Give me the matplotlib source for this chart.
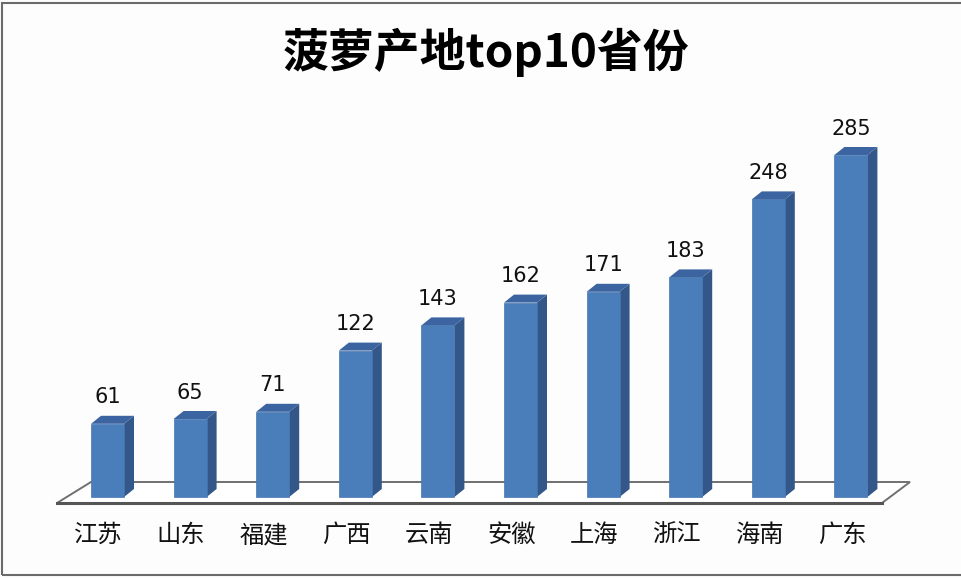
import numpy as np
import matplotlib
matplotlib.use('Agg')
import matplotlib.pyplot as plt
from matplotlib.patches import Polygon, Rectangle

plt.rcParams['font.family'] = ['Noto Sans CJK SC', 'DejaVu Sans']

provinces = ['江苏', '山东', '福建', '广西', '云南', '安徽', '上海', '浙江', '海南', '广东']
values = [61, 65, 71, 122, 143, 162, 171, 183, 248, 285]
title = '菠萝产地top10省份'

W, H = 962, 578
fig = plt.figure(figsize=(W / 100, H / 100), dpi=100)
fig.patch.set_facecolor('#fdfdfd')
ax = fig.add_axes([0, 0, 1, 1])
ax.axis('off')

# pixel layout of the plot (base line, bar spacing, scale)
base_px = 497
x0_px = 107.5
step_px = 82.6
px_per_unit = 1.2

ax.set_xlim(-x0_px / step_px, (W - x0_px) / step_px)
ax.set_ylim(-(H - base_px) / px_per_unit, base_px / px_per_unit)

def px_x(p):
    return (p - x0_px) / step_px

def px_y(p):
    return (base_px - p) / px_per_unit

# floor
floor = Polygon([(px_x(57), px_y(503)), (px_x(91), px_y(482)),
                 (px_x(910), px_y(482)), (px_x(882), px_y(503))],
                closed=True, facecolor='white', edgecolor='#707070', lw=1.4, zorder=1)
ax.add_patch(floor)
ax.plot([px_x(57), px_x(882)], [px_y(503), px_y(503)], color='#555555', lw=2.2, zorder=1)

x = np.arange(len(values))
w = 33 / step_px
dx = 10 / step_px
dy = 8 / px_per_unit

ax.bar(x, values, width=w, color='#4a7ebb', edgecolor='#4576b0', lw=0.5, zorder=3)
for xi, v in zip(x, values):
    r = xi + w / 2
    l = xi - w / 2
    ax.add_patch(Polygon([(r, 0), (r + dx, dy), (r + dx, v + dy), (r, v)],
                         closed=True, facecolor='#34578a', edgecolor='none', zorder=2))
    ax.add_patch(Polygon([(l, v), (l + dx, v + dy), (r + dx, v + dy), (r, v)],
                         closed=True, facecolor='#3b64a0', edgecolor='none', zorder=3))
    ax.annotate(str(v), (xi, v), xytext=(0, 19), textcoords='offset points',
                ha='center', va='center', fontsize=15, family='DejaVu Sans', color='#111111')

for xi, name in zip(x, provinces):
    ax.annotate(name, (xi, 0), xytext=(-6.5, -27.5), textcoords='offset points',
                ha='center', va='center', fontsize=17.5, color='#111111')

fig.text(486 / W, 1 - 52 / H, title, ha='center', va='center',
         fontsize=33, fontweight='bold', color='black')

# outer frame
fig.patches.append(Rectangle((2 / W, 3 / H), 1.0, 1 - 6 / H, transform=fig.transFigure,
                             fill=False, edgecolor='#6a6a6a', lw=1.5))

fig.savefig('out.png', dpi=100, facecolor=fig.get_facecolor())
